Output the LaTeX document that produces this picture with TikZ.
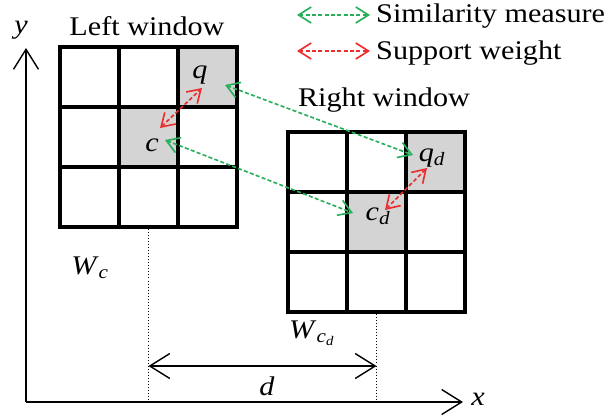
\documentclass[tikz,border=0pt]{standalone}
\usepackage{fontspec}
\setmainfont{Liberation Serif}
\usepackage{graphicx}
\usepackage{tikz}
\usetikzlibrary{arrows.meta}
\definecolor{simgreen}{RGB}{40, 175, 90}
\definecolor{supred}{RGB}{235, 45, 45}
\definecolor{cellgray}{RGB}{212, 212, 212}
\newcommand{\wtxt}[1]{\scalebox{1.12}[1]{#1}}

\begin{document}
\begin{tikzpicture}[
  x=0.03cm, y=-0.03cm,
  cell/.style={rectangle, draw=black, line width=3pt, inner sep=0pt,
    minimum width=1.77cm, minimum height=1.8cm},
  hit/.style={cell, fill=cellgray},
  lbl/.style={inner sep=0pt, font=\fontsize{23}{27}\selectfont},
  axis/.style={-{Straight Barb[length=6mm, width=7.5mm]}, line width=1.2pt},
  dim/.style={{Straight Barb[length=6mm, width=7.5mm]}-{Straight Barb[length=6mm, width=7.5mm]}, line width=1.2pt},
  guide/.style={dotted, line width=0.6pt},
  sim/.style={{Straight Barb[length=3.8mm, width=4.8mm]}-{Straight Barb[length=3.8mm, width=4.8mm]},
    line width=1.4pt, dash pattern=on 1.2mm off 0.7mm, color=simgreen},
  sup/.style={sim, color=supred}
]
  \useasboundingbox (0,0) rectangle (610,419);

  % windows
  \foreach \i in {0,1,2}
    \foreach \j in {0,1,2} {
      \node[cell] (L\i\j) at (89.5+59*\i, 77+60*\j) {};
      \node[cell] (R\i\j) at (317.5+59*\i, 162+60*\j) {};
    }
  \node[hit] (Lq) at (L20) {};
  \node[hit] (Lc) at (L11) {};
  \node[hit] (Rq) at (R20) {};
  \node[hit] (Rc) at (R11) {};

  \node[lbl] (lefttitle) at (147,26) {\wtxt{Left window}};
  \node[lbl] (righttitle) at (384,100) {\wtxt{Right window}};

  \node[lbl] (q) at (200,75) {\wtxt{\textit{q}}};
  \node[lbl] (c) at (152,145) {\wtxt{\textit{c}}};
  \node[lbl] (qd) at (432,158) {\wtxt{\textit{q}\textsubscript{\textit{d}}}};
  \node[lbl] (cd) at (378,216) {\wtxt{\textit{c}\textsubscript{\textit{d}}}};

  \node[lbl] (wc) at (90,268) {\wtxt{\textit{W}\textsubscript{\textit{c}}}};
  \node[lbl] (wcd) at (312,333) {\wtxt{\textit{W}\textsubscript{\textit{c}\textsubscript{\textit{d}}}}};

  % similarity / support
  \draw[sim] ([shift={(25,10)}]q.center) -- ([shift={(-19,-3)}]qd.center);
  \draw[sim] ([shift={(13,-5)}]c.center) -- ([shift={(-25,-3)}]cd.center);
  \draw[sup] ([shift={(8,-17)}]c.center) -- ([shift={(2,13)}]q.center);
  \draw[sup] ([shift={(7,-6)}]cd.center) -- ([shift={(-5,10)}]qd.center);

  % axes
  \coordinate (origin) at (26,402);
  \coordinate (ytip) at (26,48);
  \coordinate (xtip) at (463,402);
  \draw[axis] (origin) -- (ytip);
  \draw[axis] (origin) -- (xtip);
  \node[lbl] (ylab) at (21,30) {\wtxt{\textit{y}}};
  \node[lbl] (xlab) at (478,399) {\wtxt{\textit{x}}};

  \draw[guide] (L12.south) -- (L12.south |- origin);
  \draw[guide] (R12.south) -- (R12.south |- origin);
  \coordinate (dleft) at (L12.south |- 0,366);
  \coordinate (dright) at (R12.south |- 0,366);
  \draw[dim] (dleft) -- (dright);
  \node[lbl] (dlab) at (267,386) {\wtxt{\textit{d}}};

  % legend
  \node[lbl, anchor=west] (simtext) at (376,16) {\wtxt{Similarity measure}};
  \node[lbl, anchor=west] (suptext) at (376,53) {\wtxt{Support weight}};
  \coordinate (simstart) at (297,15);
  \coordinate (supstart) at (297,51);
  \draw[sim] (simstart) -- ++(73,0);
  \draw[sup] (supstart) -- ++(73,0);
\end{tikzpicture}
\end{document}
